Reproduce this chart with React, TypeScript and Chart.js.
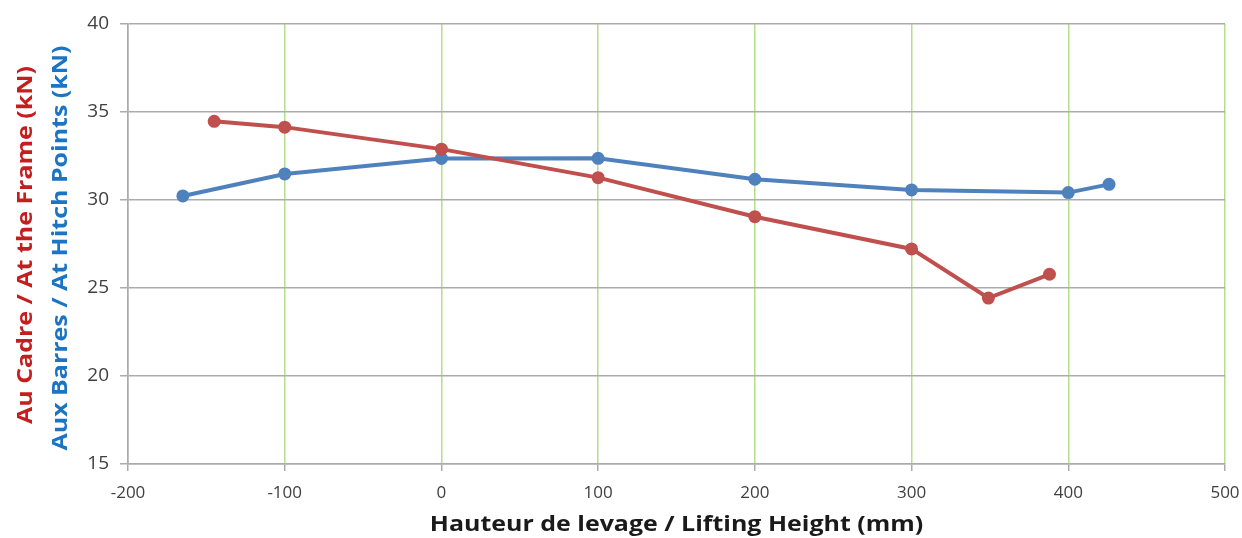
import React, { useEffect, useRef } from "react";
import { Chart, registerables } from "chart.js";

Chart.register(...registerables);

const frameX = [-145, -100, 0, 100, 200, 300, 349, 388];
const frameY = [34.47, 34.14, 32.89, 31.27, 29.05, 27.22, 24.43, 25.78];
const hitchX = [-165, -100, 0, 100, 200, 300, 400, 426];
const hitchY = [30.23, 31.48, 32.36, 32.37, 31.18, 30.57, 30.42, 30.89];

const xTitle = "Hauteur de levage / Lifting Height (mm)";
const yTitleFrame = "Au Cadre / At the Frame (kN)";
const yTitleHitch = "Aux Barres / At Hitch Points (kN)";

const RED = "#C0504D";
const BLUE = "#4F81BD";
const GRID_GRAY = "#ABABAB";
const GRID_GREEN = "#B5DE88";
const FONT = "'Open Sans', sans-serif";
const STRETCH = 1.135;

const titlesPlugin = {
  id: "titles",
  afterDraw(chart: any) {
    const ctx = chart.ctx;
    const { top, bottom, left, right } = chart.chartArea;
    const cy = (top + bottom) / 2;
    ctx.save();
    ctx.font = `bold 22px ${FONT}`;
    ctx.textAlign = "center";
    ctx.textBaseline = "middle";
    const drawV = (text: string, x: number, y: number, color: string) => {
      ctx.save();
      ctx.translate(x, y);
      ctx.rotate(-Math.PI / 2);
      ctx.scale(STRETCH, 1);
      ctx.fillStyle = color;
      ctx.fillText(text, 0, 0);
      ctx.restore();
    };
    drawV(yTitleFrame, 26, cy + 1, "#C41E1E");
    drawV(yTitleHitch, 61, cy + 4, "#1C74C4");
    ctx.save();
    ctx.translate((left + right) / 2, chart.height - 13);
    ctx.scale(STRETCH, 1);
    ctx.fillStyle = "#1a1a1a";
    ctx.fillText(xTitle, 0, 0);
    ctx.restore();
    ctx.restore();
  },
};

export default function App() {
  const ref = useRef<HTMLCanvasElement>(null);
  useEffect(() => {
    if (!ref.current) return;
    const chart = new Chart(ref.current, {
      type: "line",
      data: {
        datasets: [
          {
            label: "Frame",
            data: frameX.map((x, i) => ({ x, y: frameY[i] })),
            borderColor: RED,
            backgroundColor: RED,
            borderWidth: 4,
            pointRadius: 6.5,
            pointBorderWidth: 0,
            tension: 0,
          },
          {
            label: "Hitch",
            data: hitchX.map((x, i) => ({ x, y: hitchY[i] })),
            borderColor: BLUE,
            backgroundColor: BLUE,
            borderWidth: 4,
            pointRadius: 6.5,
            pointBorderWidth: 0,
            tension: 0,
          },
        ],
      },
      options: {
        animation: false,
        responsive: false,
        maintainAspectRatio: false,
        layout: { padding: { top: 24, right: 17, left: 0, bottom: 0 } },
        plugins: { legend: { display: false }, tooltip: { enabled: false } },
        scales: {
          x: {
            type: "linear",
            min: -200,
            max: 500,
            afterFit: (s: any) => {
              s.height = 74;
              s.paddingLeft = 0;
              s.paddingRight = 0;
            },
            ticks: {
              stepSize: 100,
              color: "#404040",
              font: { family: FONT, size: 17 },
              padding: 12,
            },
            grid: {
              color: (c: any) => (c.tick && c.tick.value === -200 ? GRID_GRAY : GRID_GREEN),
              tickColor: GRID_GRAY,
              tickLength: 7,
              lineWidth: 1.5,
            },
            border: { color: GRID_GRAY, width: 1.5 },
          },
          y: {
            type: "linear",
            min: 15,
            max: 40,
            afterFit: (s: any) => {
              s.width = 128;
              s.paddingTop = 0;
              s.paddingBottom = 0;
            },
            ticks: {
              stepSize: 5,
              color: "#404040",
              font: { family: FONT, size: 19 },
              padding: 11,
            },
            grid: {
              color: GRID_GRAY,
              tickColor: GRID_GRAY,
              tickLength: 8,
              lineWidth: 1.5,
            },
            border: { color: GRID_GRAY, width: 1.5 },
          },
        },
      },
      plugins: [titlesPlugin],
    } as any);
    return () => chart.destroy();
  }, []);
  return (
    <div style={{ position: "absolute", left: 0, top: 0, width: 1242, height: 538, background: "#fff" }}>
      <canvas ref={ref} width={1242} height={538} style={{ width: 1242, height: 538 }} />
    </div>
  );
}
